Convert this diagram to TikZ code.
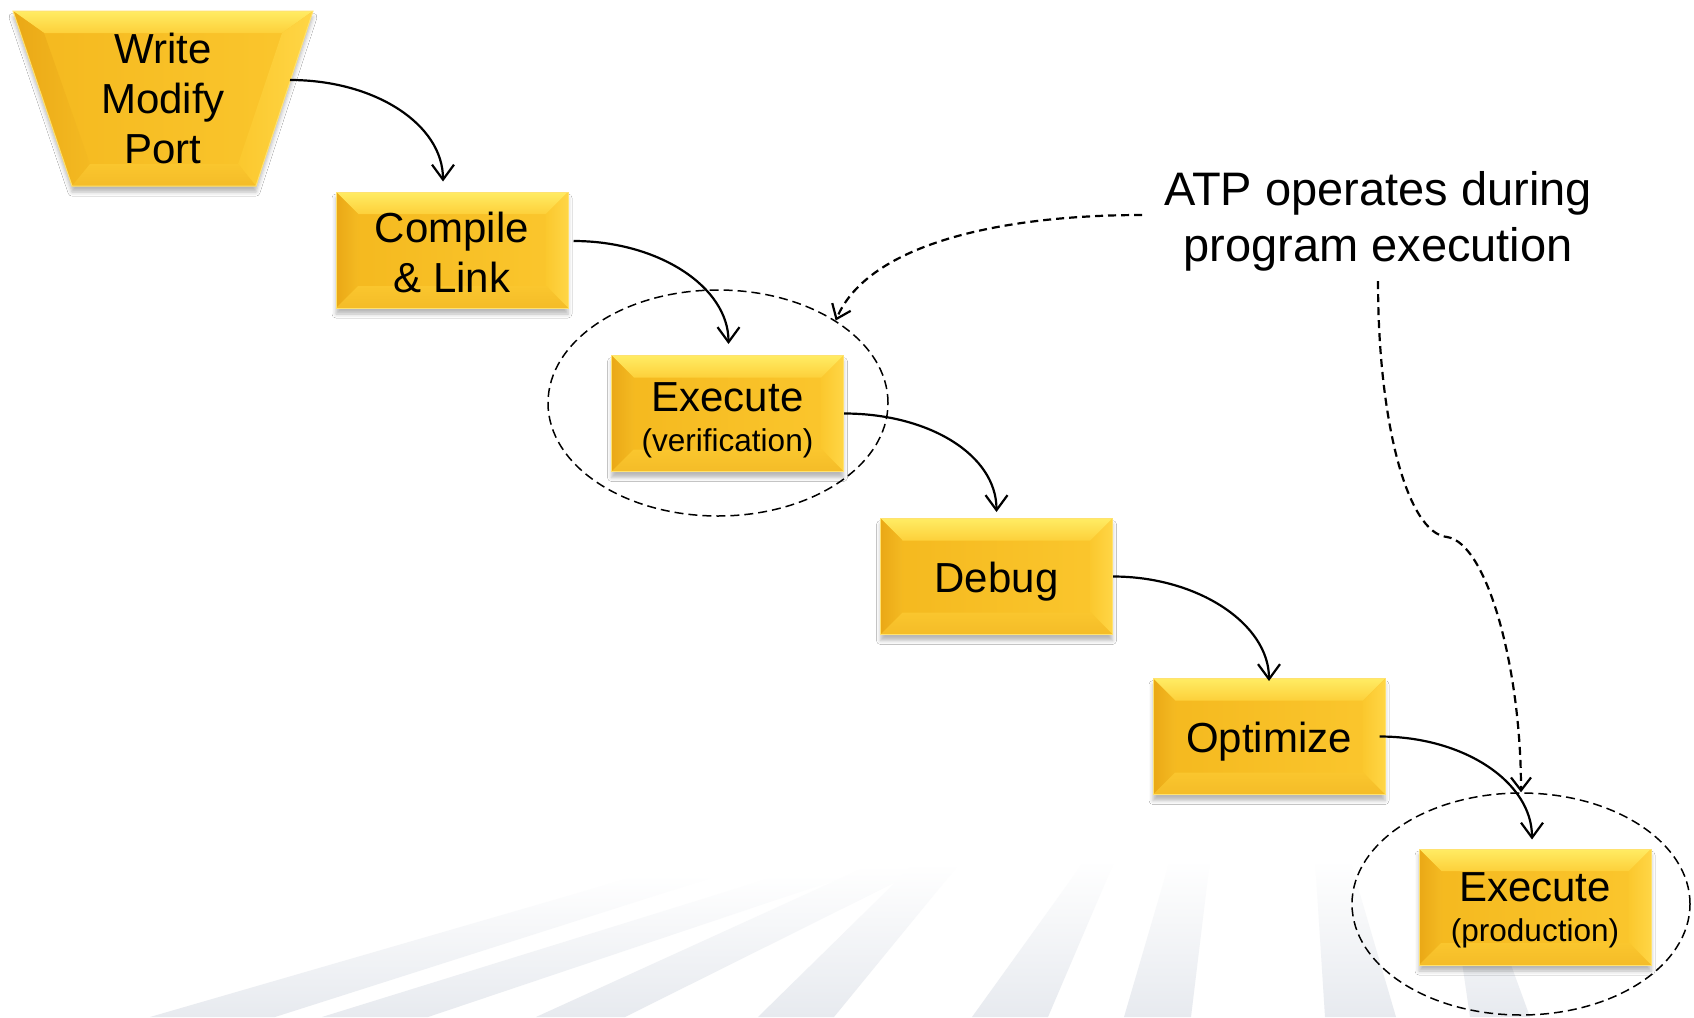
\documentclass[tikz,border=0pt]{standalone}
\usepackage{fontspec}
\setmainfont{Liberation Sans}
\usetikzlibrary{arrows.meta,shapes.geometric,shadows.blur}

% golden bevelled faces
\definecolor{faceL}{RGB}{244,184,30}
\definecolor{faceR}{RGB}{251,199,46}
\definecolor{bevTop}{RGB}{255,236,100}
\definecolor{bevTopIn}{RGB}{253,208,58}
\definecolor{bevLeft}{RGB}{234,168,22}
\definecolor{bevLeftIn}{RGB}{244,186,34}
\definecolor{bevRight}{RGB}{255,214,70}
\definecolor{bevRightIn}{RGB}{251,200,46}
\definecolor{bevBot}{RGB}{244,188,40}
\definecolor{bevBotIn}{RGB}{250,198,46}
\definecolor{rim}{RGB}{255,226,112}
\definecolor{raygray}{RGB}{231,234,239}

\newcommand\stepfont{\fontsize{42}{50}\selectfont}
\newcommand\stepsubfont{\fontsize{31.5}{36}\selectfont}
\newcommand\atpnotefont{\fontsize{47}{56}\selectfont}
\newlength\bevw
\setlength\bevw{22pt}

% bevel strips along the four edges of a rectangular face
\newcommand\bevelfaces{%
  \coordinate (bNW) at (path picture bounding box.north west);
  \coordinate (bNE) at (path picture bounding box.north east);
  \coordinate (bSW) at (path picture bounding box.south west);
  \coordinate (bSE) at (path picture bounding box.south east);
  \coordinate (iNW) at ([xshift=\bevw,yshift=-\bevw]bNW);
  \coordinate (iNE) at ([xshift=-\bevw,yshift=-\bevw]bNE);
  \coordinate (iSW) at ([xshift=\bevw,yshift=\bevw]bSW);
  \coordinate (iSE) at ([xshift=-\bevw,yshift=\bevw]bSE);
  \shade[top color=bevTop,bottom color=bevTopIn] (bNW)--(bNE)--(iNE)--(iNW)--cycle;
  \shade[left color=bevLeft,right color=bevLeftIn] (bNW)--(iNW)--(iSW)--(bSW)--cycle;
  \shade[left color=bevRightIn,right color=bevRight] (bNE)--(iNE)--(iSE)--(bSE)--cycle;
  \shade[top color=bevBotIn,bottom color=bevBot] (bSW)--(iSW)--(iSE)--(bSE)--cycle;
}

\tikzset{
  softshadow/.style={blur shadow={shadow xshift=0pt,shadow yshift=-6pt,
      shadow blur radius=4pt,shadow opacity=28}},
  stepbox/.style={rectangle,minimum width=232pt,minimum height=116pt,
      inner sep=0pt,align=center,font=\stepfont,softshadow,
      left color=faceL,right color=faceR,draw=rim,line width=1pt,
      path picture={\bevelfaces}},
  flow/.style={line width=2.2pt,-{Straight Barb[length=15pt,width=22pt]}},
  hint/.style={line width=2.2pt,dash pattern=on 8pt off 5pt,
      -{Straight Barb[length=13pt,width=20pt]}},
  ring/.style={ellipse,draw,line width=1.5pt,dash pattern=on 9pt off 5pt,
      inner sep=0pt},
}

\begin{document}
\begin{tikzpicture}[x=1pt,y=-1pt]
\useasboundingbox (0,0) rectangle (1694,1017);
\fill[white] (0,0) rectangle (1694,1017);

% faint floor rays
\foreach \a/\b/\c/\d/\t in {
    150/275/720/640/875, 322/428/850/780/875, 536/625/930/870/865,
    758/834/960/915/863, 972/1048/1115/1085/860, 1124/1191/1210/1170/860,
    1325/1396/1350/1315/860, 1470/1530/1480/1450/880}
  \shade[top color=white,bottom color=raygray]
    (\a,1017) -- (\b,1017) -- (\c,\t) -- (\d,\t) -- cycle;

% Write / Modify / Port trapezoid
\coordinate (wTL) at (13,11);
\coordinate (wTR) at (313,11);
\coordinate (wBR) at (256,186);
\coordinate (wBL) at (72,186);
\coordinate (wiTL) at (44,33);
\coordinate (wiTR) at (282,33);
\coordinate (wiBR) at (238,164);
\coordinate (wiBL) at (90,164);
\path[softshadow,left color=faceL,right color=faceR]
  (wTL) -- (wTR) -- (wBR) -- (wBL) -- cycle;
\shade[top color=bevTop,bottom color=bevTopIn] (wTL)--(wTR)--(wiTR)--(wiTL)--cycle;
\shade[left color=bevLeft,right color=bevLeftIn] (wTL)--(wiTL)--(wiBL)--(wBL)--cycle;
\shade[left color=bevRightIn,right color=bevRight] (wTR)--(wiTR)--(wiBR)--(wBR)--cycle;
\shade[top color=bevBotIn,bottom color=bevBot] (wBL)--(wiBL)--(wiBR)--(wBR)--cycle;
\draw[rim,line width=1pt] (wTL) -- (wTR) -- (wBR) -- (wBL) -- cycle;
\node[font=\stepfont,align=center] (write) at (163,98.5) {Write\\Modify\\Port};
\coordinate (writeport) at (290,80);

% process steps
\node[stepbox,text height=85pt,text depth=1pt] (compile) at (452,250) {Compile\\\& Link};
\node[stepbox,text height=82pt,text depth=7pt] (verify) at (727.5,413.5)
  {Execute\\[-10pt]{\stepsubfont (verification)}};
\node[stepbox,text height=41pt,text depth=9pt] (debug) at (996.5,576.5) {Debug};
\node[stepbox,text height=41pt,text depth=9pt] (optimize) at (1269,736.5) {Optimize};
\node[stepbox,text height=76pt,text depth=7pt] (produce) at (1535,907)
  {Execute\\[-10pt]{\stepsubfont (production)}};

% dashed rings around the two execution steps
\node[ring,minimum width=340pt,minimum height=226pt] (verifyring) at (718,403) {};
\node[ring,minimum width=338pt,minimum height=222pt] (producering) at (1521,904) {};

% note
\node[font=\atpnotefont,align=center,inner xsep=22pt,inner ysep=10pt]
  (atp) at (1378,221) {ATP operates during\\program execution};
\coordinate (bend) at (1447,537);

% flow arrows
\draw[flow] (writeport) .. controls +(85,0) and +(0,-57) ..
  ([xshift=-9pt,yshift=10pt]compile.north);
\draw[flow] ([xshift=5pt,yshift=9pt]compile.east) .. controls +(85,0) and +(0,-57) ..
  ([xshift=1pt,yshift=11pt]verify.north);
\draw[flow] (verify.east) .. controls +(85,0) and +(0,-57) ..
  ([yshift=6pt]debug.north);
\draw[flow] (debug.east) .. controls +(85,0) and +(0,-57) ..
  ([yshift=-3pt]optimize.north);
\draw[flow] ([xshift=-6pt]optimize.east) .. controls +(85,0) and +(0,-57) ..
  ([xshift=-3pt,yshift=9pt]produce.north);

% note pointers
\draw[hint] ([yshift=6pt]atp.west) .. controls +(-137,0) and +(33,-78) ..
  (verifyring.35);
\draw[hint] (atp.south) .. controls +(0,140) and +(-40,-4) .. (bend)
  .. controls +(40,6) and +(0,-125) .. (producering.north);
\end{tikzpicture}
\end{document}
